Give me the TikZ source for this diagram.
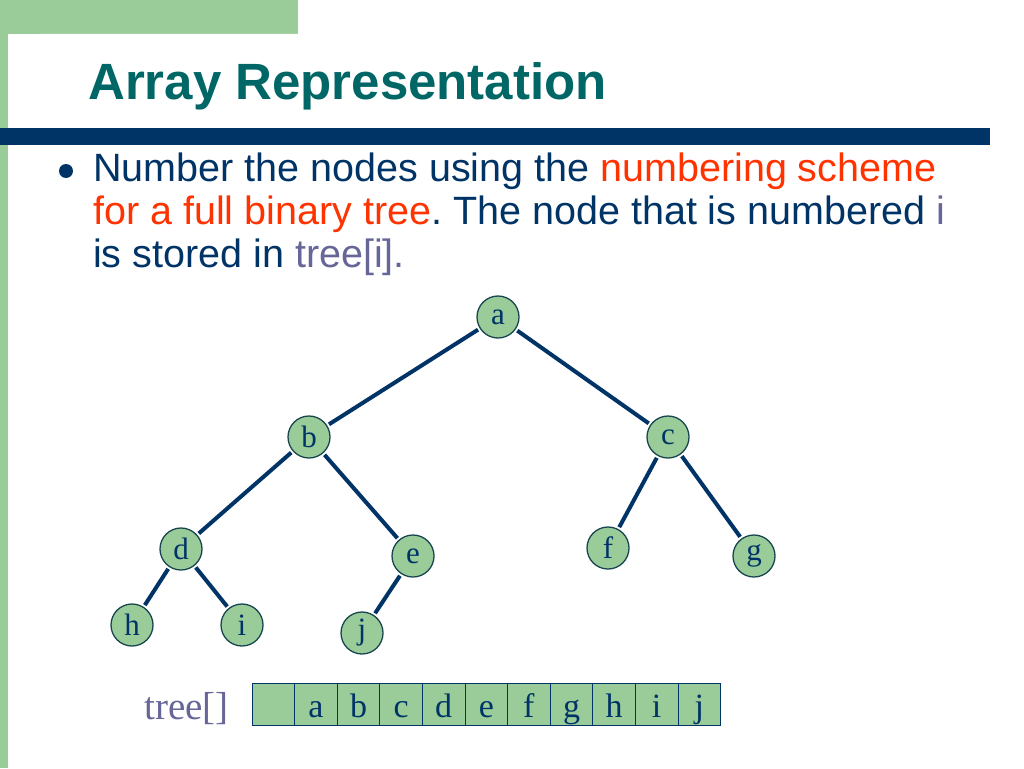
\documentclass[tikz,border=0pt]{standalone}
\usepackage{fontspec}
\setmainfont{Liberation Serif}
\setsansfont{Liberation Sans}
\usetikzlibrary{positioning}
\frenchspacing
\definecolor{slidegreen}{RGB}{153,204,153}
\definecolor{navy}{RGB}{0,51,102}
\definecolor{titleteal}{RGB}{0,102,102}
\definecolor{hired}{RGB}{255,51,0}
\definecolor{lilac}{RGB}{102,102,153}
\definecolor{rimcol}{RGB}{25,70,80}
\tikzstyle{tnode}=[
	circle,
	draw=rimcol,
	line width=1.3,
	fill=slidegreen,
	minimum size=42,
	inner sep=0,
	text=navy,
	font=\rmfamily\fontsize{31}{31}\selectfont]
\tikzstyle{cell}=[
	rectangle,
	draw=navy,
	line width=1,
	fill=slidegreen,
	minimum width=42.6,
	minimum height=42,
	inner sep=0,
	outer sep=0,
	text height=33,
	text depth=7,
	text=navy,
	font=\rmfamily\fontsize{34}{34}\selectfont]
\tikzstyle{branch}=[
	line width=4,
	draw=navy,
	shorten >=2,
	shorten <=2]
\tikzstyle{bline}=[
	anchor=base west,
	inner sep=0,
	text=navy,
	font=\sffamily\fontsize{39.5}{39.5}\selectfont]
\begin{document}
\begin{tikzpicture}[x=1pt,y=-1pt]
	\useasboundingbox (0,0) rectangle (1024,768);
	% slide frame
	\fill[slidegreen] (0,0) rectangle (298,34);
	\fill[slidegreen] (0,0) rectangle (8,768);
	\fill[white,rounded corners=32] (8,34) rectangle (1100,850);
	\fill[navy] (0,128) rectangle (990,145);
	\node[anchor=base west,inner sep=0,text=titleteal,font=\sffamily\bfseries\fontsize{51}{51}\selectfont]	(title)	at (88,99)	{Array Representation};
	% bullet text
	\node[circle,fill=navy,minimum size=14,inner sep=0]	(dot)	at (66,171)	{};
	\node[bline]	(line1)	at (93,181)	{Number the nodes using the \textcolor{hired}{numbering scheme}};
	\node[bline]	(line2)	at (93,224)	{\textcolor{hired}{for a full binary tree}. The node that is numbered \textcolor{lilac}{i}};
	\node[bline]	(line3)	at (93,267)	{is stored in \textcolor{lilac}{tree[i].}};
	% tree
	\node[tnode]	(a)	at (498,317)	{a};
	\node[tnode]	(b)	at (309,437)	{b};
	\node[tnode]	(c)	at (668,437)	{c};
	\node[tnode]	(d)	at (181,549)	{d};
	\node[tnode]	(e)	at (413,556)	{e};
	\node[tnode]	(f)	at (608,548)	{f};
	\node[tnode]	(g)	at (754,556)	{g};
	\node[tnode]	(h)	at (132,625)	{h};
	\node[tnode]	(i)	at (242,625)	{i};
	\node[tnode]	(j)	at (362,633)	{j};
	\draw[branch]	(a) -- (b);
	\draw[branch]	(a) -- (c);
	\draw[branch]	(b) -- (d);
	\draw[branch]	(b) -- (e);
	\draw[branch]	(c) -- (f);
	\draw[branch]	(c) -- (g);
	\draw[branch]	(d) -- (h);
	\draw[branch]	(d) -- (i);
	\draw[branch]	(e) -- (j);
	% array
	\node[cell]	(t0)	at (273.3,704)	{};
	\node[cell]	(ta)	[right=0pt of t0]	{a};
	\node[cell]	(tb)	[right=0pt of ta]	{b};
	\node[cell]	(tc)	[right=0pt of tb]	{c};
	\node[cell]	(td)	[right=0pt of tc]	{d};
	\node[cell]	(te)	[right=0pt of td]	{e};
	\node[cell]	(tf)	[right=0pt of te]	{f};
	\node[cell]	(tg)	[right=0pt of tf]	{g};
	\node[cell]	(th)	[right=0pt of tg]	{h};
	\node[cell]	(ti)	[right=0pt of th]	{i};
	\node[cell]	(tj)	[right=0pt of ti]	{j};
	\node[anchor=base east,inner sep=0,text=lilac,font=\rmfamily\fontsize{39}{39}\selectfont]	(tname)	at (229,719)	{tree[]};
\end{tikzpicture}
\end{document}
